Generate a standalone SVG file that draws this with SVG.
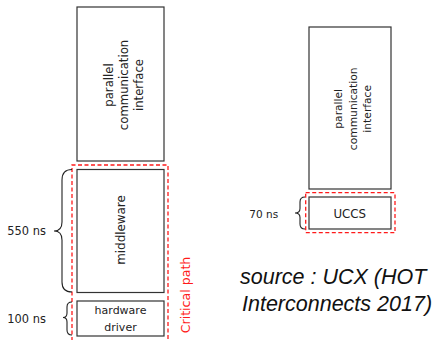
<svg xmlns="http://www.w3.org/2000/svg" width="433" height="340" viewBox="0 0 433 340">
<style>
.box{fill:#fff;stroke:#333;stroke-width:1.2}
.crit{fill:none;stroke:#ff1a1a;stroke-width:1.3;stroke-dasharray:4 2.5}
.brace{fill:none;stroke:#222;stroke-width:1.1}
.t{font-family:"DejaVu Sans",sans-serif;fill:#222}
.src{font-family:"Liberation Sans",Arial,sans-serif;font-style:italic;font-size:21.5px;fill:#111}
</style>
<rect width="433" height="340" fill="#fff"/>
<g id="left-pci">
<rect class="box" x="77" y="7" width="87" height="154"/>
<text class="t" font-size="11.7" text-anchor="middle" transform="translate(0,85) rotate(-90)"><tspan x="0" y="112.5">parallel</tspan><tspan x="0" y="127.5">communication</tspan><tspan x="0" y="142.5">interface</tspan></text>
</g>
<g id="left-middleware">
<rect class="box" x="77" y="169.5" width="87" height="123"/>
<text class="t" font-size="11.9" text-anchor="middle" transform="translate(0,230) rotate(-90)"><tspan x="0" y="125">middleware</tspan></text>
</g>
<g id="left-driver">
<rect class="box" x="77" y="301" width="87" height="35"/>
<text class="t" font-size="11" text-anchor="middle" x="120.5" y="314">hardware</text>
<text class="t" font-size="11" text-anchor="middle" x="120.5" y="330.5">driver</text>
</g>
<g id="critical-path">
<path class="crit" d="M72,341 L72,165 L168,165 L168,341"/>
<text class="t" font-size="12.6" text-anchor="middle" style="fill:#ff1a1a" transform="translate(0,295) rotate(-90)"><tspan x="0" y="189.5">Critical path</tspan></text>
</g>
<g id="brace-550">
<path class="brace" d="M72,169.5 Q62,169.5 62,180 L62,222 Q62,231 54,231 Q62,231 62,240 L62,282 Q62,292 72,292"/>
<text class="t" font-size="11.4" x="7.3" y="235">550 ns</text>
</g>
<g id="brace-100">
<path class="brace" d="M72,302 Q67,302 67,307 L67,313 Q67,317.5 63,317.5 Q67,317.5 67,322 L67,330 Q67,335 72,335"/>
<text class="t" font-size="11.4" x="7.3" y="323">100 ns</text>
</g>
<g id="right-pci">
<rect class="box" x="309" y="27" width="82" height="162"/>
<text class="t" font-size="10.7" text-anchor="middle" transform="translate(0,108.8) rotate(-90)"><tspan x="0" y="342">parallel</tspan><tspan x="0" y="356.5">communication</tspan><tspan x="0" y="371">interface</tspan></text>
</g>
<g id="right-uccs">
<rect class="crit" x="305.7" y="192.7" width="89.3" height="40"/>
<rect class="box" x="309" y="197" width="82" height="32"/>
<text class="t" font-size="11.8" text-anchor="middle" x="349.7" y="218">UCCS</text>
</g>
<g id="brace-70">
<path class="brace" d="M305,197 Q300,197 300,202 L300,208.5 Q300,213 295,213 Q300,213 300,217.5 L300,224 Q300,229 305,229"/>
<text class="t" font-size="10.5" x="249.3" y="218">70 ns</text>
</g>
<g id="source">
<text class="src" x="240" y="284">source : UCX (HOT</text>
<text class="src" x="242" y="311">Interconnects 2017)</text>
</g>
</svg>
